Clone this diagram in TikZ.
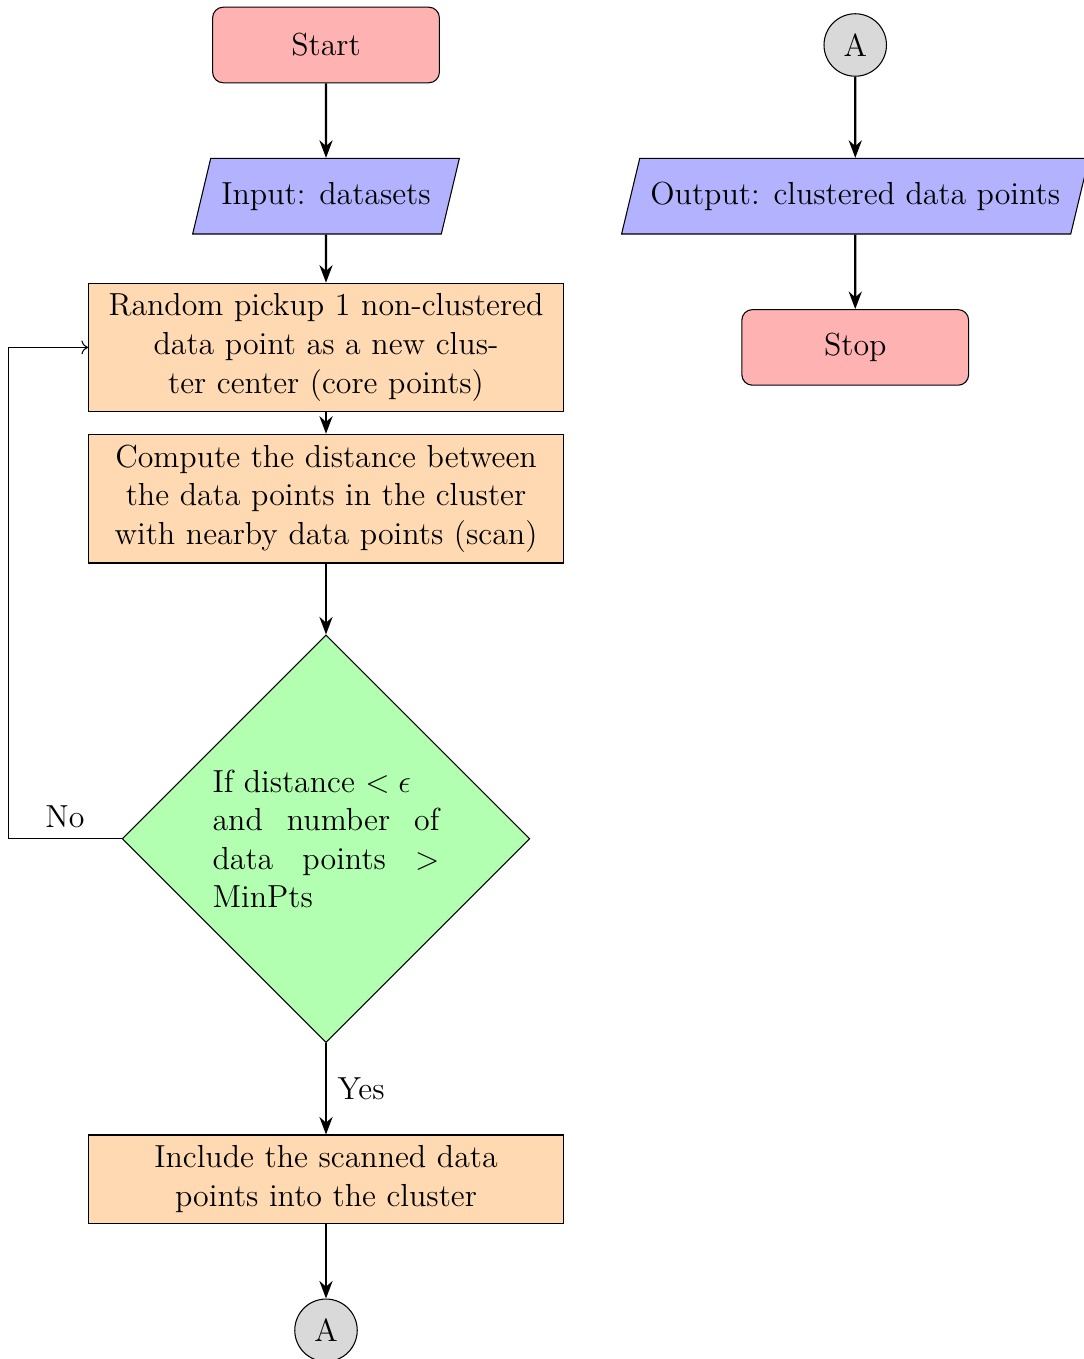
\documentclass[12pt,tikz,border=0pt]{standalone}
\usepackage{amsmath, amssymb}
\usetikzlibrary{shapes.geometric, arrows.meta, positioning}

\begin{document}
\begin{tikzpicture}[
  node distance=2cm, on grid,
  startstop/.style={rectangle, rounded corners, minimum width=3cm, minimum height=1cm, align=center, draw=black, fill=red!30},
  io/.style={trapezium, trapezium left angle=70, trapezium right angle=110, trapezium stretches=true, minimum width=3cm, minimum height=1cm, align=center, draw=black, fill=blue!30},
  process/.style={rectangle, minimum width=3cm, minimum height=1cm, text width=6cm, align=center, draw=black, fill=orange!30},
  decision/.style={diamond, text width=3cm, align=justify, draw=black, fill=green!30},
  connector/.style={circle, minimum size=8mm, draw=black, fill=gray!30},
  flowarrow/.style={thick, -{Stealth}}
]
  \useasboundingbox (-4.312,0.595) rectangle (10.013,-17.38);

  % main column
  \node (start) [startstop] {Start};
  \node (in1) [io, below=of start] {Input: datasets};
  \node (pro1) [process, below=of in1] {Random pickup 1 non-clustered data point as a new cluster center (core points)};
  \node (pro2) [process, below=of pro1] {Compute the distance between the data points in the cluster with nearby data points (scan)};
  \node (dec1) [decision, below=4.5cm of pro2] {If distance $<\epsilon$\\ and number of data points $>$ MinPts};
  \node (pro3) [process, below=4.5cm of dec1] {Include the scanned data points into the cluster};
  \node (conA) [connector, below=of pro3] {A};

  % second column
  \node (conB) [connector, right=7cm of start] {A};
  \node (out1) [io, below=of conB] {Output: clustered data points};
  \node (stop) [startstop, below=of out1] {Stop};

  \draw [flowarrow] (start) -- (in1);
  \draw [flowarrow] (in1) -- (pro1);
  \draw [flowarrow] (pro1) -- (pro2);
  \draw [flowarrow] (pro2) -- (dec1);
  \draw [flowarrow] (dec1) -- node[right] {Yes} (pro3);
  \draw [->] (dec1.west) -- node[above] {No} ++(-1.5cm,0) |- (pro1.west);
  \draw [flowarrow] (pro3) -- (conA);
  \draw [flowarrow] (conB) -- (out1);
  \draw [flowarrow] (out1) -- (stop);
\end{tikzpicture}
\end{document}
